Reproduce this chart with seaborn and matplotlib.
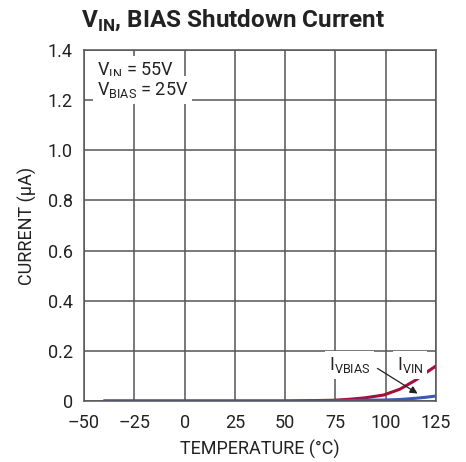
import matplotlib
matplotlib.use("Agg")
import matplotlib.pyplot as plt
import seaborn as sns
import numpy as np
import pandas as pd
from matplotlib import font_manager as fm

# Data
temp = [-40, -25, 0, 25, 50, 74, 82, 90, 99, 107, 115, 120, 125]
i_vin = [0.0, 0.0, 0.0, 0.0, 0.0, 0.003, 0.007, 0.013, 0.024, 0.047, 0.084, 0.113, 0.140]
i_vbias = [0.0, 0.0, 0.0, 0.0, 0.0, 0.001, 0.002, 0.003, 0.004, 0.006, 0.011, 0.015, 0.020]
xticks = [-50, -25, 0, 25, 50, 75, 100, 125]
xtick_labels = ["\u201350", "\u201325", "0", "25", "50", "75", "100", "125"]
yticks = [0, 0.2, 0.4, 0.6, 0.8, 1.0, 1.2, 1.4]
ytick_labels = ["0", "0.2", "0.4", "0.6", "0.8", "1.0", "1.2", "1.4"]

sns.set_style("white")
installed = {f.name for f in fm.fontManager.ttflist}
def pick(prefs):
    return [p for p in prefs if p in installed][0]
body = pick(["Roboto", "Liberation Sans", "DejaVu Sans"])
plt.rcParams['font.family'] = [body, "DejaVu Sans"]
plt.rcParams['mathtext.fontset'] = 'custom'
plt.rcParams['mathtext.rm'] = body
plt.rcParams['mathtext.bf'] = body + ":bold"

TXT = "#222222"
df = pd.DataFrame({"T": temp * 2,
                   "I": i_vin + i_vbias,
                   "s": ["VIN"] * len(temp) + ["VBIAS"] * len(temp)})

fig = plt.figure(figsize=(4.66, 4.62), dpi=100)
ax = fig.add_axes([0.1803, 0.132, 0.7554, 0.7597])
sns.lineplot(data=df, x="T", y="I", hue="s", palette={"VIN": "#a3103c", "VBIAS": "#3a5ab4"},
             linewidth=2.2, ax=ax, legend=False)

ax.set_xlim(-50, 125)
ax.set_ylim(0, 1.4)
ax.set_xticks(xticks)
ax.set_xticklabels(xtick_labels)
ax.set_yticks(yticks)
ax.set_yticklabels(ytick_labels)
ax.grid(True, color="#555555", linewidth=1.1)
ax.set_axisbelow(True)
for s in ax.spines.values():
    s.set_color("#555555")
    s.set_linewidth(1.1)
ax.tick_params(length=0, labelsize=13, colors=TXT)
ax.tick_params(axis="x", pad=9)
ax.tick_params(axis="y", pad=8)
ax.set_xlabel("TEMPERATURE (°C)", fontsize=13, color=TXT, labelpad=6)
ax.set_ylabel("CURRENT (µA)", fontsize=13, color=TXT, labelpad=8)

fig.text(0.5, 0.957, r"V$_{\mathbf{IN}}$, BIAS Shutdown Current", ha="center", va="center",
         fontsize=17.5, fontweight="bold", color=TXT)

ax.text(-43.7, 1.300, "V$_{\\mathregular{IN}}$ = 55V", fontsize=13, va="baseline", ha="left", color=TXT,
        bbox=dict(facecolor="white", edgecolor="none", pad=3))
ax.text(-43.7, 1.222, "V$_{\\mathregular{BIAS}}$ = 25V", fontsize=13, va="baseline", ha="left", color=TXT,
        bbox=dict(facecolor="white", edgecolor="none", pad=3))

ax.text(82.0, 0.124, "I$_{\\mathregular{VBIAS}}$", fontsize=13, ha="center", va="baseline", color=TXT,
        bbox=dict(facecolor="white", edgecolor="none", pad=3))
ax.text(112.1, 0.124, "I$_{\\mathregular{VIN}}$", fontsize=13, ha="center", va="baseline", color=TXT,
        bbox=dict(facecolor="white", edgecolor="none", pad=3))
ax.annotate("", xy=(117, 0.024), xytext=(94.7, 0.136),
            arrowprops=dict(arrowstyle="-|>", color=TXT, lw=0.9, mutation_scale=11))

fig.savefig("out.png", dpi=100)
